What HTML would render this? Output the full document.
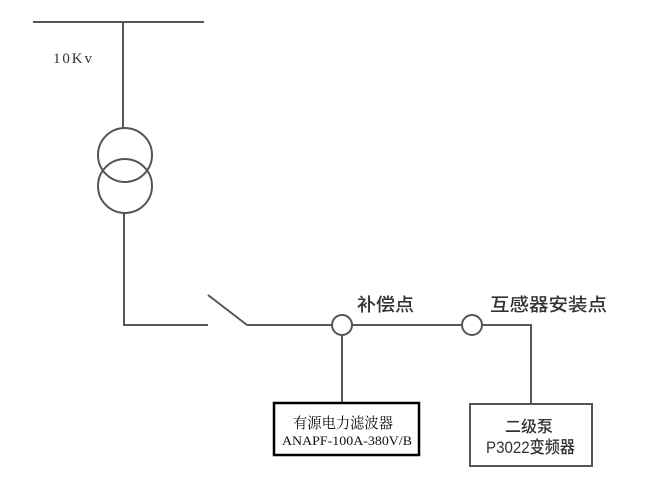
<!DOCTYPE html>
<html><head><meta charset="utf-8"><style>html,body{margin:0;padding:0;background:#fff}</style></head>
<body>
<svg width="652" height="487" viewBox="0 0 652 487" xmlns="http://www.w3.org/2000/svg">
<g stroke="#555" stroke-width="2" fill="none">
<line x1="33" y1="22" x2="204" y2="22"/>
<line x1="123" y1="22" x2="123" y2="128"/>
<circle cx="125" cy="155" r="27"/>
<circle cx="125" cy="186" r="27"/>
<line x1="124" y1="213" x2="124" y2="325"/>
<line x1="123" y1="325" x2="208" y2="325"/>
<line x1="208" y1="295" x2="247" y2="325"/>
<line x1="247" y1="325" x2="332" y2="325"/>
<circle cx="342" cy="325" r="10"/>
<line x1="352" y1="325" x2="462" y2="325"/>
<circle cx="472" cy="325" r="10"/>
<polyline points="482,325 531,325 531,404"/>
<line x1="342" y1="335" x2="342" y2="402"/>
<rect x="470" y="404" width="122" height="62"/>
</g>
<rect x="274" y="403" width="145" height="52" fill="none" stroke="#000" stroke-width="2.5"/>
<g font-family="Liberation Serif, Noto Serif CJK SC, serif" fill="#333">
<text x="53" y="63" font-size="15" textLength="39">10Kv</text>
<text x="293" y="428" font-size="15" fill="#111" textLength="100" lengthAdjust="spacingAndGlyphs">有源电力滤波器</text>
<text x="282" y="445" font-size="13" fill="#111" textLength="130" lengthAdjust="spacingAndGlyphs">ANAPF-100A-380V/B</text>
</g>
<g font-family="Liberation Sans, Noto Sans CJK SC, sans-serif" fill="#333" font-weight="500">
<text x="357" y="311" font-size="18" textLength="57" lengthAdjust="spacingAndGlyphs">补偿点</text>
<text x="490" y="311" font-size="18" textLength="117" lengthAdjust="spacingAndGlyphs">互感器安装点</text>
<text x="505" y="432" font-size="16" textLength="48" lengthAdjust="spacingAndGlyphs">二级泵</text>
<text x="486" y="453" font-size="17" textLength="89" lengthAdjust="spacingAndGlyphs">P3022变频器</text>
</g>
</svg>
</body></html>
